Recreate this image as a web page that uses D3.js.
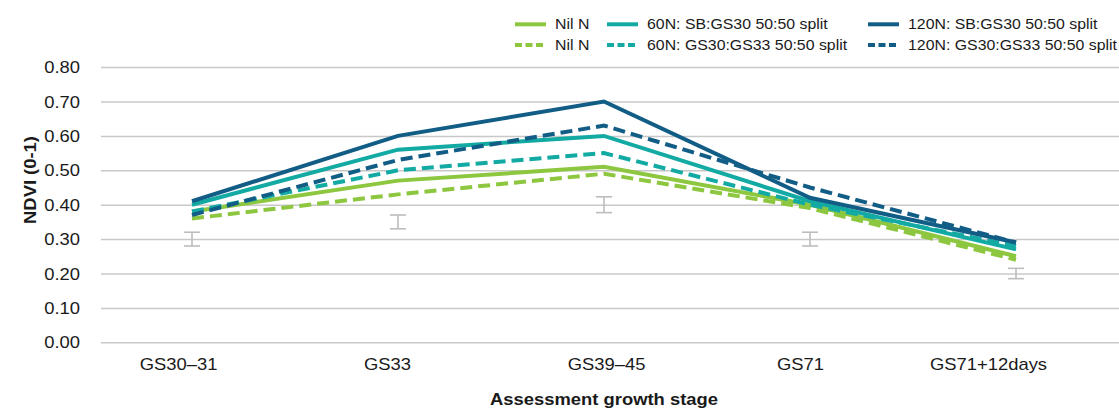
<!DOCTYPE html>
<html>
<head>
<meta charset="utf-8">
<script src="https://cdn.jsdelivr.net/npm/d3@7"></script>
<style>
  html, body { margin: 0; padding: 0; background: #fff; }
  svg { display: block; font-family: "Liberation Sans", Arial, Helvetica, sans-serif; }
</style>
</head>
<body>
<svg id="chart" width="1119" height="410"></svg>
<script>
// ---- data ----
const categories = ["GS30\u201331", "GS33", "GS39\u201345", "GS71", "GS71+12days"];
const nilSolid   = [0.38, 0.47, 0.51, 0.40, 0.25];
const nilDashed  = [0.36, 0.43, 0.49, 0.39, 0.24];
const n60Solid   = [0.40, 0.56, 0.60, 0.41, 0.27];
const n60Dashed  = [0.38, 0.50, 0.55, 0.40, 0.28];
const n120Solid  = [0.41, 0.60, 0.70, 0.42, 0.29];
const n120Dashed = [0.37, 0.53, 0.63, 0.45, 0.29];
const errCenter  = [0.30, 0.35, 0.40, 0.30, 0.20];
const errHalf    = [0.02, 0.02, 0.023, 0.02, 0.015];
const yTicks     = [0, 0.1, 0.2, 0.3, 0.4, 0.5, 0.6, 0.7, 0.8];
const seriesNames = ["Nil N", "Nil N", "60N: SB:GS30 50:50 split", "60N: GS30:GS33 50:50 split",
                     "120N: SB:GS30 50:50 split", "120N: GS30:GS33 50:50 split"];

const cGreen = "#8dc63f", cTeal = "#12aaa3", cBlue = "#115d86";
const series = [
  { name: seriesNames[0], values: nilSolid,   color: cGreen, dashed: false },
  { name: seriesNames[1], values: nilDashed,  color: cGreen, dashed: true },
  { name: seriesNames[2], values: n60Solid,   color: cTeal,  dashed: false },
  { name: seriesNames[3], values: n60Dashed,  color: cTeal,  dashed: true },
  { name: seriesNames[4], values: n120Solid,  color: cBlue,  dashed: false },
  { name: seriesNames[5], values: n120Dashed, color: cBlue,  dashed: true }
];

const W = 1119, H = 410;
const plotLeft = 101, plotRight = 1119, plotTop = 67.1, plotBottom = 342.3;
const SX = 1.15; // horizontal text stretch
const labelShift = [-14, -11, 2, -10, -28]; // label offsets (px) as in the original layout

const svg = d3.select("#chart");
svg.append("rect").attr("width", W).attr("height", H).attr("fill", "#fff");

const x = d3.scalePoint().domain(categories).range([192, 1016]);
const y = d3.scaleLinear().domain([0, 0.8]).range([plotBottom, plotTop]);

// y axis with gridlines
const yAxis = svg.append("g")
  .attr("transform", `translate(${plotLeft},0)`)
  .call(d3.axisLeft(y).tickValues(yTicks).tickSize(-(plotRight - plotLeft)).tickFormat(d3.format(".2f")));
yAxis.select(".domain").remove();
yAxis.selectAll(".tick line").attr("stroke", "#c8c8c8").attr("stroke-width", 1.5);
yAxis.selectAll(".tick text")
  .attr("x", 0).attr("dy", "0.35em")
  .attr("transform", `translate(-21,0) scale(${SX},1)`)
  .attr("text-anchor", "end")
  .attr("font-size", 16).attr("fill", "#1a1a1a")
  .attr("font-family", "'Liberation Sans', Arial, sans-serif");

// x axis
const xAxis = svg.append("g")
  .attr("transform", `translate(0,${plotBottom})`)
  .call(d3.axisBottom(x).tickSize(0));
xAxis.select(".domain").remove();
xAxis.selectAll(".tick text")
  .attr("y", 0).attr("dy", null)
  .attr("transform", (d, i) => `translate(${labelShift[i]},28) scale(${SX},1)`)
  .attr("font-size", 16).attr("fill", "#1a1a1a")
  .attr("font-family", "'Liberation Sans', Arial, sans-serif");

// axis titles
svg.append("text")
  .attr("transform", `translate(36,180) rotate(-90) scale(${SX},1)`)
  .attr("text-anchor", "middle")
  .attr("font-size", 16).attr("font-weight", "bold").attr("fill", "#1a1a1a")
  .text("NDVI (0-1)");
svg.append("text")
  .attr("transform", `translate(604,405) scale(${SX},1)`)
  .attr("text-anchor", "middle")
  .attr("font-size", 16).attr("font-weight", "bold").attr("fill", "#1a1a1a")
  .text("Assessment growth stage");

// error bars
const eb = svg.append("g").attr("stroke", "#bdbdbd").attr("stroke-width", 1.6).attr("fill", "none");
categories.forEach((c, i) => {
  const cx = x(c), y1 = y(errCenter[i] + errHalf[i]), y2 = y(errCenter[i] - errHalf[i]);
  eb.append("line").attr("x1", cx).attr("x2", cx).attr("y1", y1).attr("y2", y2);
  eb.append("line").attr("x1", cx - 8).attr("x2", cx + 8).attr("y1", y1).attr("y2", y1);
  eb.append("line").attr("x1", cx - 8).attr("x2", cx + 8).attr("y1", y2).attr("y2", y2);
});

// lines
const line = d3.line().x((d, i) => x(categories[i])).y(d => y(d));
series.forEach(s => {
  svg.append("path")
    .datum(s.values)
    .attr("d", line)
    .attr("fill", "none")
    .attr("stroke", s.color)
    .attr("stroke-width", 4)
    .attr("stroke-linejoin", "miter")
    .attr("stroke-dasharray", s.dashed ? "12,6" : null);
});

// legend
const legCols = [515, 607, 868];
const legRows = [24.3, 45];
series.forEach((s, i) => {
  const col = Math.floor(i / 2), row = i % 2;
  const lx = legCols[col], ly = legRows[row];
  const g = svg.append("g");
  g.append("line")
    .attr("x1", lx).attr("x2", lx + 31).attr("y1", ly).attr("y2", ly)
    .attr("stroke", s.color).attr("stroke-width", 4)
    .attr("stroke-dasharray", s.dashed ? "7,3.5" : null);
  g.append("text")
    .attr("transform", `translate(${lx + 40},${ly + 4.9}) scale(${SX},1)`)
    .attr("font-size", 13.8).attr("fill", "#1a1a1a")
    .text(s.name);
});
</script>
</body>
</html>
